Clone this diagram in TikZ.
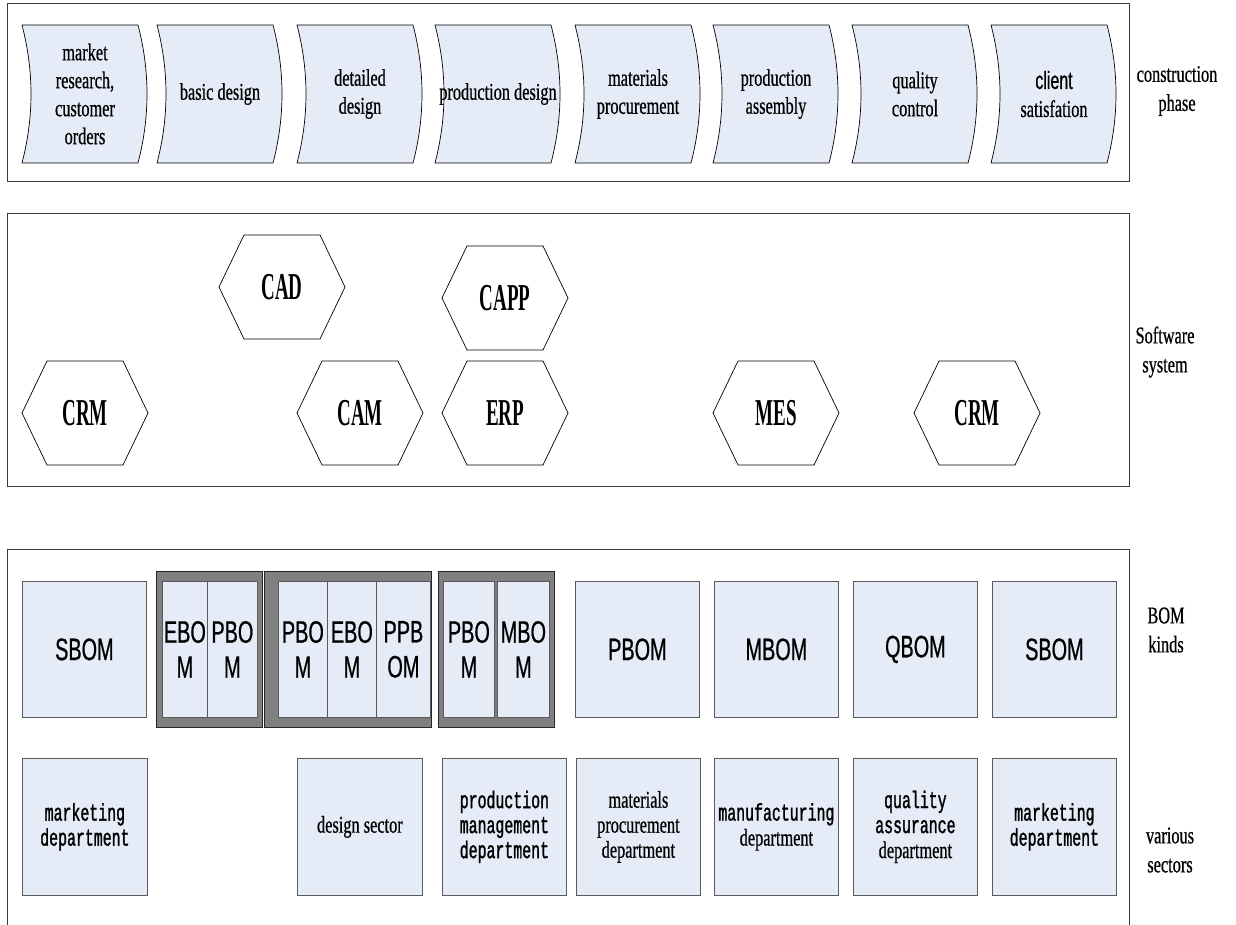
\documentclass[tikz,border=0pt]{standalone}
\usepackage{fontspec}
\setmainfont{Liberation Serif}
\newfontfamily\tnr[FakeStretch=0.68,FakeBold=0.6]{Liberation Serif}
\newfontfamily\hexfont[FakeStretch=0.5]{Liberation Serif}
\newfontfamily\ari[FakeStretch=0.64,FakeBold=0.6]{Liberation Sans}
\newfontfamily\cou[FakeStretch=0.62,FakeBold=1.2]{Liberation Mono}
\definecolor{boxfill}{HTML}{E6ECF7}
\definecolor{boxline}{HTML}{5A5A5A}
\definecolor{grpfill}{HTML}{808080}
\definecolor{framecol}{HTML}{3A3A3A}
\tikzset{
  frame/.style={draw=framecol, line width=1pt},
  chevline/.style={draw=black, fill=boxfill, line width=0.7pt},
  chevtext/.style={align=center, inner sep=0pt, font=\tnr\fontsize{24}{28}\selectfont},
  hexline/.style={draw=black, fill=white, line width=0.7pt},
  hextext/.style={inner sep=0pt, font=\hexfont\bfseries\fontsize{38}{40}\selectfont},
  bbox/.style={draw=boxline, fill=boxfill, line width=0.8pt, inner sep=0pt, align=center},
  bomtext/.style={font=\ari\fontsize{31}{35}\selectfont},
  grp/.style={draw=black!85, fill=grpfill, line width=0.8pt, inner sep=0pt},
  sidelabel/.style={align=center, inner sep=0pt, font=\tnr\fontsize{24}{29}\selectfont},
  sectext/.style={font=\fontsize{24}{25}\selectfont}
}
\newcommand\chev[3]{%
  \draw[chevline] (#2,25) -- ({#2+116},25) .. controls ({#2+128},71) and ({#2+128},117) .. ({#2+116},163) -- (#2,163) .. controls ({#2+12},117) and ({#2+12},71) .. (#2,25) -- cycle;
  \node[chevtext] (#1) at ({#2+63},94) {#3};}
\newcommand\hexa[4]{%
  \draw[hexline] ({#2-63},#3) -- ({#2-38},{#3-52}) -- ({#2+38},{#3-52}) -- ({#2+63},#3) -- ({#2+38},{#3+52}) -- ({#2-38},{#3+52}) -- cycle;
  \node[hextext] (#1) at (#2,#3) {#4};}
\newcommand\bx[7]{%
  \node[bbox, #7, minimum width={#4-#2}, minimum height={#5-#3}, anchor=north west] (#1) at (#2,#3) {#6};}
\newcommand\grpbox[5]{%
  \node[grp, minimum width={#4-#2}, minimum height={#5-#3}, anchor=north west] (#1) at (#2,#3) {};}
\begin{document}
\begin{tikzpicture}[x=1pt,y=-1pt]
\useasboundingbox (0,0) rectangle (1236,925);
% frames
\draw[frame] (7,4) rectangle (1129,182);
\draw[frame] (7,214) rectangle (1129,486);
\draw[frame] (7,926) -- (7,549) -- (1129,549) -- (1129,926);
% construction phase
\chev{c1}{22}{market\\research,\\customer\\orders}
\chev{c2}{157}{basic design}
\chev{c3}{297}{detailed\\design}
\chev{c4}{435}{production design}
\chev{c5}{575}{materials\\procurement}
\chev{c6}{713}{production\\assembly}
\chev{c7}{852}{quality\\control}
\chev{c8}{991}{\ari\fontsize{25}{28}\selectfont client\\satisfation}
% software
\hexa{cad}{282}{287}{CAD}
\hexa{capp}{505}{298}{CAPP}
\hexa{crma}{85}{413}{CRM}
\hexa{cam}{360}{413}{CAM}
\hexa{erp}{505}{413}{ERP}
\hexa{mes}{776}{413}{MES}
\hexa{crmb}{977}{413}{CRM}
% BOM kinds
\bx{sboma}{22}{581}{146}{717}{SBOM}{bomtext}
\grpbox{g1}{156}{571}{262}{727}
\bx{g1a}{162}{581}{207}{717}{EBO\\M}{bomtext}
\bx{g1b}{207}{581}{257}{717}{PBO\\M}{bomtext}
\grpbox{g2}{264}{571}{431}{727}
\bx{g2a}{278}{581}{327}{717}{PBO\\M}{bomtext}
\bx{g2b}{327}{581}{376}{717}{EBO\\M}{bomtext}
\bx{g2c}{376}{581}{430}{717}{PPB\\OM}{bomtext}
\grpbox{g3}{438}{571}{554}{727}
\bx{g3a}{443}{581}{494}{717}{PBO\\M}{bomtext}
\bx{g3b}{497}{581}{549}{717}{MBO\\M}{bomtext}
\bx{pbom}{575}{581}{699}{717}{PBOM}{bomtext}
\bx{mbom}{714}{581}{838}{717}{MBOM}{bomtext}
\bx{qbom}{853}{581}{977}{717}{QBOM}{bomtext}
\bx{sbomb}{992}{581}{1116}{717}{SBOM}{bomtext}
% sectors
\bx{s1}{22}{758}{147}{895}{\cou marketing\\\cou department}{sectext}
\bx{s2}{297}{758}{422}{895}{\tnr design sector}{sectext}
\bx{s3}{442}{758}{566}{895}{\cou production\\\cou management\\\cou department}{sectext}
\bx{s4}{576}{758}{700}{895}{\tnr materials\\\tnr procurement\\\tnr department}{sectext}
\bx{s5}{714}{758}{838}{895}{\cou manufacturing\\\tnr department}{sectext}
\bx{s6}{853}{758}{977}{895}{\cou quality\\\cou assurance\\\tnr department}{sectext}
\bx{s7}{992}{758}{1116}{895}{\cou marketing\\\cou department}{sectext}
% side labels
\node[sidelabel] (l1) at (1177,91) {construction\\phase};
\node[sidelabel] (l2) at (1165,352) {Software\\system};
\node[sidelabel] (l3) at (1166,630) {BOM\\kinds};
\node[sidelabel] (l4) at (1170,850) {various\\sectors};
\end{tikzpicture}
\end{document}
